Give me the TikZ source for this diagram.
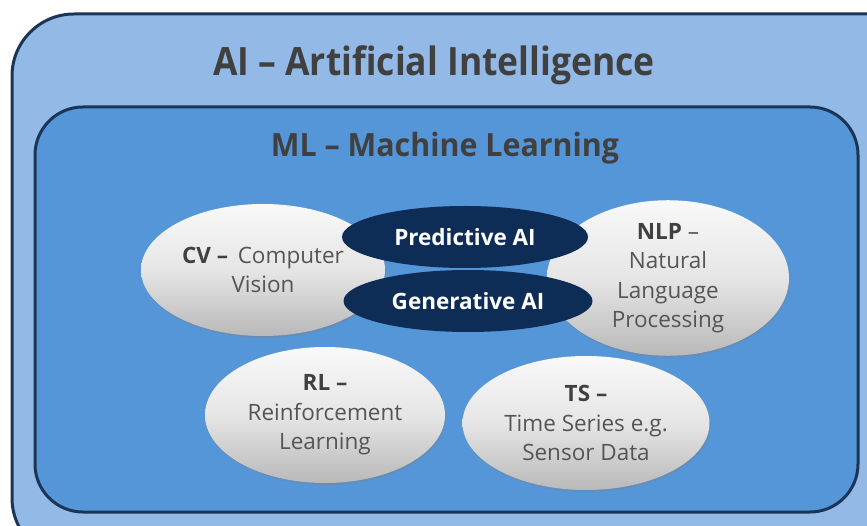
\documentclass[tikz,border=0pt]{standalone}
\usepackage{fontspec}
\usepackage{graphicx}
\setmainfont{Open Sans}
\usetikzlibrary{shapes.geometric,shadows}
\definecolor{aifill}{HTML}{93B9E6}
\definecolor{mlfill}{HTML}{5596D8}
\definecolor{navy}{HTML}{1B3556}
\definecolor{darkell}{HTML}{0E2D56}
\definecolor{txt}{HTML}{404040}
\definecolor{txtl}{HTML}{555555}
\tikzset{
  grayell/.style={ellipse, minimum width=#1, top color=white!95!gray, bottom color=gray!55, middle color=gray!20, text=txtl, align=center, font=\fontsize{22.5}{29.5}\selectfont, inner sep=0pt, drop shadow={shadow xshift=1pt, shadow yshift=-2pt, opacity=0.35}},
  navyell/.style={ellipse, fill=darkell, text=white, font=\fontsize{22.5}{27}\selectfont\bfseries, inner sep=0pt, minimum width=246pt, minimum height=62pt},
  frame/.style={draw=navy, line width=3pt, rounded corners=#1}
}
\newcommand{\bt}[1]{\textcolor{txt}{\textbf{#1}}}
\begin{document}
\begin{tikzpicture}[x=1pt,y=-1pt]
\useasboundingbox (0,0) rectangle (867,526);
\fill[white] (0,0) rectangle (867,526);
\begin{scope}
\clip (0,0) rectangle (867,526);
\draw[frame=62pt, fill=aifill] (12,14) rectangle (930,560);
\end{scope}
\node[font=\fontsize{39}{46}\selectfont\bfseries, text=txt] (ai) at (434,65) {\scalebox{0.91}[1]{AI – Artificial Intelligence}};
\draw[frame=48pt, fill=mlfill] (35,107) rectangle (858,512);
\node[font=\fontsize{32}{38}\selectfont\bfseries, text=txt] (ml) at (445,148) {\scalebox{0.95}[1]{ML – Machine Learning}};
\node[grayell=244pt, minimum height=132pt] (cv) at (263,270) {\bt{CV –}\, Computer\\Vision};
\node[grayell=242pt, minimum height=132pt] (nlp) at (668,278) {\bt{NLP} –\\Natural\\Language\\Processing};
\node[navyell] (pred) at (465,237) {Predictive AI};
\node[navyell, minimum width=249pt] (gen) at (468,301) {Generative AI};
\node[grayell=240pt, minimum height=136pt] (rl) at (325,415) {\bt{RL –}\\Reinforcement\\Learning};
\node[grayell=247pt, minimum height=134pt] (ts) at (586,423) {\bt{TS –}\\Time Series e.g.\\Sensor Data};
\end{tikzpicture}
\end{document}
